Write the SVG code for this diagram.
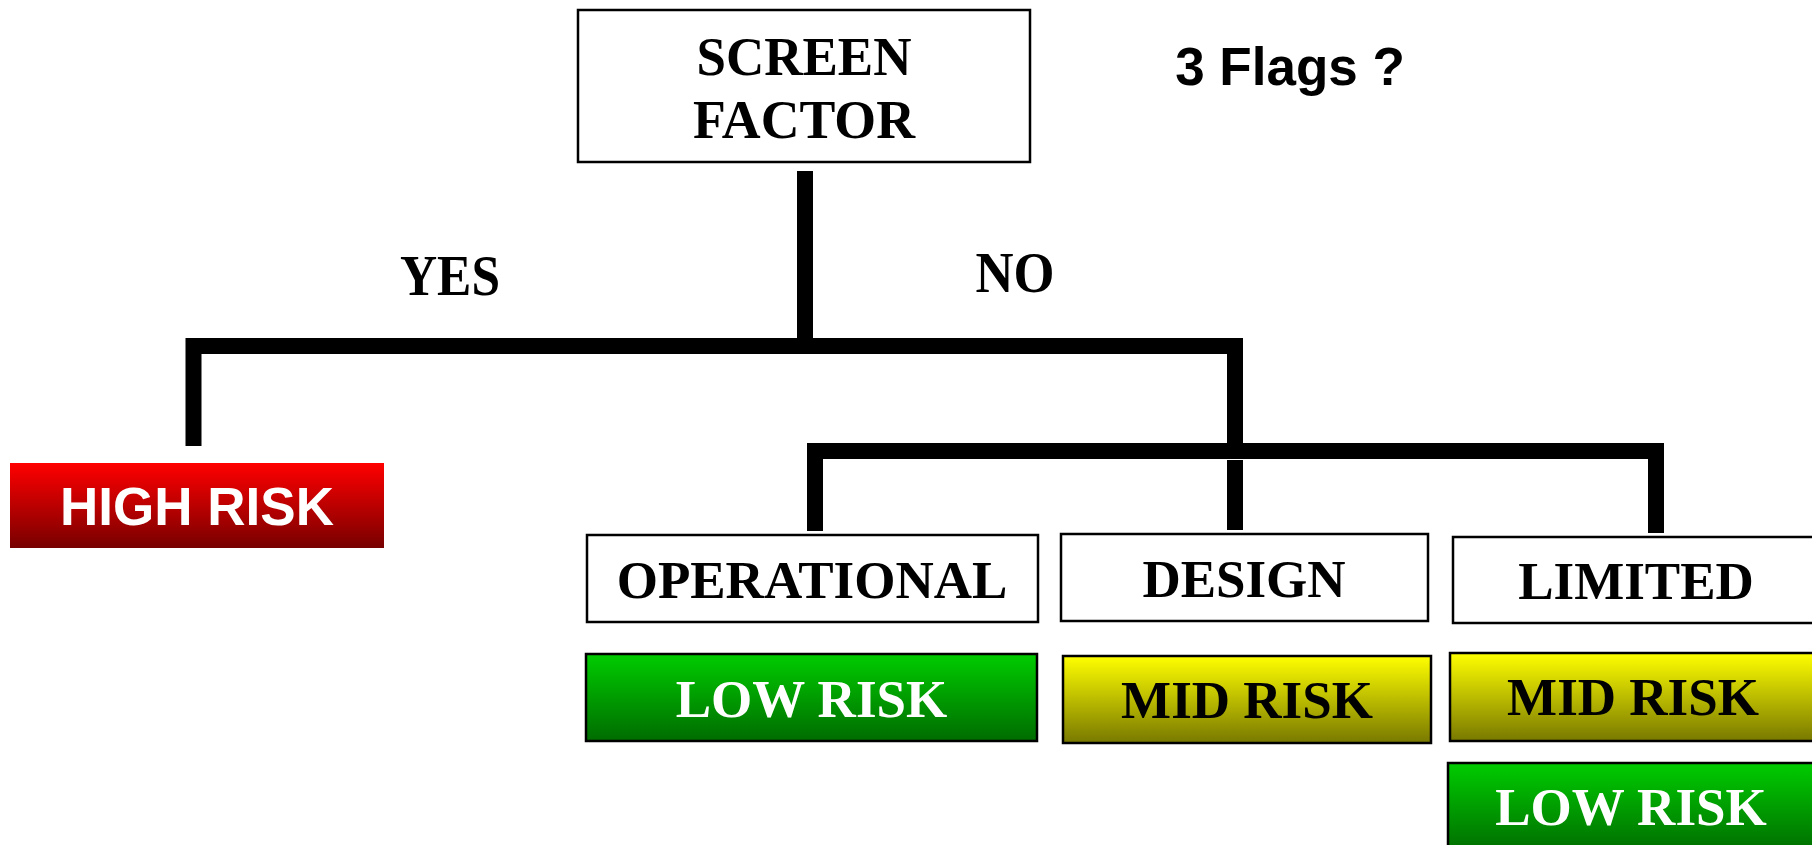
<svg xmlns="http://www.w3.org/2000/svg" width="1812" height="845" viewBox="0 0 1812 845">
<defs>
<linearGradient id="gRed" x1="0" y1="0" x2="0" y2="1"><stop offset="0" stop-color="#ff0000"/><stop offset="1" stop-color="#780000"/></linearGradient>
<linearGradient id="gGreen" x1="0" y1="0" x2="0" y2="1"><stop offset="0" stop-color="#00cc00"/><stop offset="1" stop-color="#006c00"/></linearGradient>
<linearGradient id="gYellow" x1="0" y1="0" x2="0" y2="1"><stop offset="0" stop-color="#ffff00"/><stop offset="1" stop-color="#787800"/></linearGradient>
</defs>
<style>
.box{fill:#fff;stroke:#000;stroke-width:2.5}
.risk{stroke:#000;stroke-width:2.5}
.t{font-family:"Liberation Serif","Times New Roman",serif;font-weight:bold;font-size:53px;text-anchor:middle;fill:#000}
.big{font-size:55px}
.yn{font-size:56px}
.w{fill:#fff}
.s{font-family:"Liberation Sans",Arial,sans-serif;font-weight:bold;font-size:53px;text-anchor:middle}
.c{fill:none;stroke:#000;stroke-width:16;stroke-linejoin:miter;stroke-linecap:butt}
</style>
<rect width="1812" height="845" fill="#fff"/>
<g id="connectors">
<path class="c" d="M805 171 V346"/>
<path class="c" d="M193.5 446 V346 H1235 V443"/>
<path class="c" d="M815 531 V451 H1656 V533"/>
<path class="c" d="M1235 460 V530"/>
</g>
<g id="screen-factor">
<rect class="box" x="578" y="10" width="452" height="152"/>
<text class="t big" x="804" y="75" textLength="215" lengthAdjust="spacingAndGlyphs">SCREEN</text>
<text class="t big" x="804" y="138" textLength="222" lengthAdjust="spacingAndGlyphs">FACTOR</text>
</g>
<g id="flags"><text class="s" x="1290" y="85" fill="#000">3 Flags ?</text></g>
<g id="yes"><text class="t yn" x="450" y="295" textLength="100" lengthAdjust="spacingAndGlyphs">YES</text></g>
<g id="no"><text class="t yn" x="1015" y="292" textLength="79" lengthAdjust="spacingAndGlyphs">NO</text></g>
<g id="high-risk">
<rect x="10" y="463" width="374" height="85" fill="url(#gRed)"/>
<text class="s w" x="197" y="525">HIGH RISK</text>
</g>
<g id="operational">
<rect class="box" x="587" y="535" width="451" height="87"/>
<text class="t" x="812" y="598">OPERATIONAL</text>
</g>
<g id="design">
<rect class="box" x="1061" y="534" width="367" height="87"/>
<text class="t" x="1244" y="597">DESIGN</text>
</g>
<g id="limited">
<rect class="box" x="1453" y="537" width="370" height="86"/>
<text class="t" x="1636" y="599">LIMITED</text>
</g>
<g id="low-risk-1">
<rect class="risk" x="586" y="654" width="451" height="87" fill="url(#gGreen)"/>
<text class="t w" x="811.5" y="717">LOW RISK</text>
</g>
<g id="mid-risk-1">
<rect class="risk" x="1063" y="656" width="368" height="87" fill="url(#gYellow)"/>
<text class="t" x="1247" y="718">MID RISK</text>
</g>
<g id="mid-risk-2">
<rect class="risk" x="1450" y="653" width="370" height="88" fill="url(#gYellow)"/>
<text class="t" x="1633" y="715">MID RISK</text>
</g>
<g id="low-risk-2">
<rect class="risk" x="1448" y="763" width="372" height="90" fill="url(#gGreen)"/>
<text class="t w" x="1631" y="825">LOW RISK</text>
</g>
</svg>
